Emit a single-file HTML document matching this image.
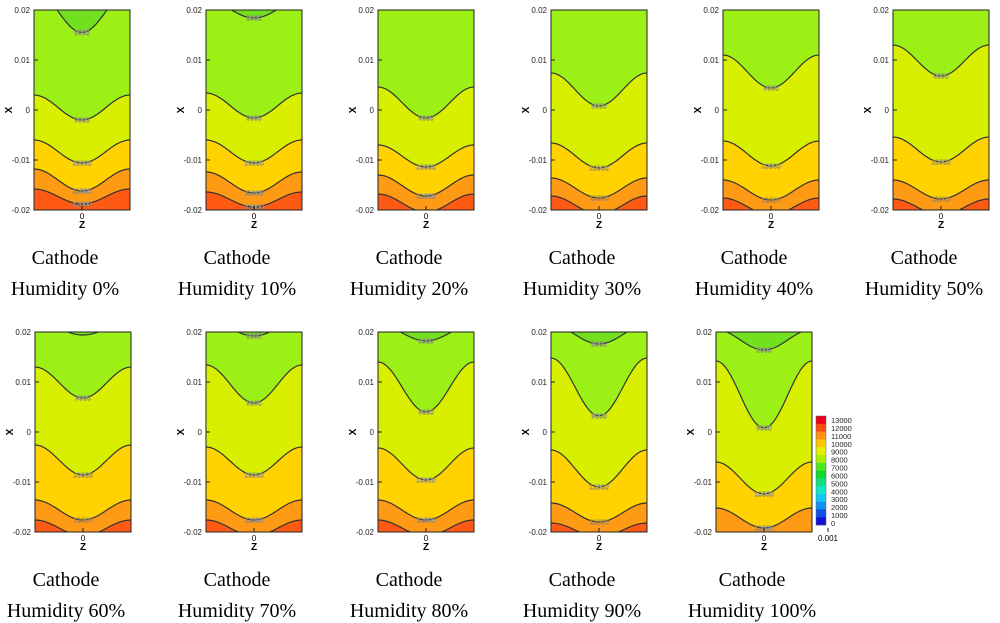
<!DOCTYPE html>
<html><head><meta charset="utf-8"><style>
html,body{margin:0;padding:0;background:#fff;}
svg{display:block;}
</style></head><body>
<svg id="fig" width="1000" height="623" xmlns="http://www.w3.org/2000/svg"></svg>
<script>
// Data: humidity cases, contour levels and contour-line x-position (edge, center) per panel
const humidityLabels = ["0%","10%","20%","30%","40%","50%","60%","70%","80%","90%","100%"];
const contourLevels = [8000, 9000, 10000, 11000, 12000];
// x at edge of domain for each contour level, per panel
const contourEdge = [
  [0.024, 0.003, -0.006, -0.0118, -0.0158],
  [0.022, 0.0034, -0.006, -0.0124, -0.0164],
  [0.03, 0.0046, -0.007, -0.013, -0.0168],
  [0.03, 0.0074, -0.0066, -0.0136, -0.0172],
  [0.03, 0.011, -0.0062, -0.014, -0.0176],
  [0.03, 0.013, -0.0054, -0.014, -0.0178],
  [0.022, 0.013, -0.0026, -0.0136, -0.0176],
  [0.0225, 0.0134, -0.003, -0.0136, -0.0176],
  [0.0215, 0.014, -0.0032, -0.0136, -0.0176],
  [0.0214, 0.0148, -0.0036, -0.0142, -0.0182],
  [0.0205, 0.0142, -0.006, -0.0152, -0.025]
];
// x at center (z=0) for each contour level, per panel
const contourCenter = [
  [0.0155, -0.002, -0.0106, -0.0162, -0.0188],
  [0.0184, -0.0016, -0.0106, -0.0166, -0.0194],
  [0.03, -0.0016, -0.0114, -0.0172, -0.0204],
  [0.03, 0.0008, -0.0116, -0.0176, -0.0208],
  [0.03, 0.0044, -0.0112, -0.018, -0.021],
  [0.03, 0.0068, -0.0104, -0.0178, -0.021],
  [0.0194, 0.0068, -0.0086, -0.0176, -0.0208],
  [0.0192, 0.0058, -0.0086, -0.0176, -0.0208],
  [0.0182, 0.004, -0.0096, -0.0176, -0.0208],
  [0.0176, 0.0032, -0.011, -0.018, -0.021],
  [0.0164, 0.0008, -0.0124, -0.0192, -0.025]
];
const xTicks = [0.02, 0.01, 0, -0.01, -0.02];
const xTickLabels = ["0.02","0.01","0","-0.01","-0.02"];
const legendLabels = ["13000","12000","11000","10000","9000","8000","7000","6000","5000","4000","3000","2000","1000","0"];

const NS = "http://www.w3.org/2000/svg";
const svg = document.getElementById("fig");
const regionColors = ["#72e01e","#9cf015","#d8f000","#ffd200","#ff9a14","#ff5a14"];
const panelLeft = [34,206,378,551,723,893, 35,206,378,551,716];
const panelTop = [10,10,10,10,10,10, 332,332,332,332,332];
const PW = 96, PH = 200;
function el(tag, attrs, parent){const e=document.createElementNS(NS,tag);for(const k in attrs)e.setAttribute(k,attrs[k]);(parent||svg).appendChild(e);return e;}
function yScale(v, top){return top + (0.02 - v)/0.04*PH;}
function curveY(p, li, t, top){
  const e=contourEdge[p][li], c=contourCenter[p][li];
  const w=(1+Math.cos(2*Math.PI*(t-0.5)))/2;
  return yScale(e+(c-e)*w, top);
}
const defs = el("defs",{});
for(let p=0;p<humidityLabels.length;p++){
  const L=panelLeft[p], T=panelTop[p];
  const g=el("g",{});
  
  
  const cp=el("clipPath",{id:"cp"+p},defs);
  el("rect",{x:L,y:T,width:PW,height:PH},cp);
  const inner=el("g",{"clip-path":"url(#cp"+p+")"},g);
  el("rect",{x:L,y:T,width:PW,height:PH,fill:regionColors[0]},inner);
  const N=40;
  for(let li=0;li<contourLevels.length;li++){
    let pts=[];
    for(let i=0;i<=N;i++){const t=i/N;pts.push((L+t*PW).toFixed(1)+","+curveY(p,li,t,T).toFixed(1));}
    el("path",{d:"M"+pts.join(" L")+" L"+(L+PW)+","+(T+PH+5)+" L"+L+","+(T+PH+5)+"Z",fill:regionColors[li+1]},inner);
  }
  for(let li=0;li<contourLevels.length;li++){
    let pts=[];
    for(let i=0;i<=N;i++){const t=i/N;pts.push((L+t*PW).toFixed(1)+","+curveY(p,li,t,T).toFixed(1));}
    const ln=el("path",{d:"M"+pts.join(" L"),fill:"none",stroke:"#333",  "stroke-width":1.2},inner);
    
    
    const cy=curveY(p,li,0.5,T);
    if(cy>T+3&&cy<T+PH-2){
      const lb=el("text",{x:L+PW/2,y:cy+2.5,"font-size":7,"text-anchor":"middle","font-family":"Liberation Sans, sans-serif",fill:"#fff",stroke:"#555","stroke-width":0.3},inner);
      lb.textContent=contourLevels[li];
      
      
    }
  }
  el("rect",{x:L,y:T,width:PW,height:PH,fill:"none",stroke:"#222","stroke-width":1},g);
  for(let k=0;k<xTicks.length;k++){
    const y=yScale(xTicks[k],T);
    el("line",{x1:L,x2:L+4,y1:y,y2:y,stroke:"#222"},g);
    const tx=el("text",{x:L-4,y:y+3,"font-size":8,"text-anchor":"end","font-family":"Liberation Sans, sans-serif",fill:"#222"},g);
    tx.textContent=xTickLabels[k];
    
    
  }
  const xt=el("text",{x:L-26,y:T+PH/2+4,"font-size":10,"font-weight":"bold","text-anchor":"middle","font-family":"Liberation Sans, sans-serif",transform:"rotate(-90 "+(L-26)+" "+(T+PH/2)+")"},g);
  xt.textContent="X";
  
  
  el("line",{x1:L+PW/2,x2:L+PW/2,y1:T+PH,y2:T+PH-4,stroke:"#222"},g);
  const z0=el("text",{x:L+PW/2,y:T+PH+9,"font-size":8,"text-anchor":"middle","font-family":"Liberation Sans, sans-serif"},g);
  z0.textContent="0";
  
  
  const zt=el("text",{x:L+PW/2,y:T+PH+18,"font-size":10,"font-weight":"bold","text-anchor":"middle","font-family":"Liberation Sans, sans-serif"},g);
  zt.textContent="Z";
  
  
  const cx=L+PW/2-(p===10?12:17);
  const c1=el("text",{x:cx,y:T+254,"font-size":20,"text-anchor":"middle","font-family":"Liberation Serif, serif"},g);
  c1.textContent="Cathode";
  
  
  const c2=el("text",{x:cx,y:T+285,"font-size":20,"text-anchor":"middle","font-family":"Liberation Serif, serif"},g);
  c2.textContent="Humidity "+humidityLabels[p];
  
  
}
// extra z tick on last panel
const zt2=el("text",{x:828,y:541,"font-size":8,"text-anchor":"middle","font-family":"Liberation Sans, sans-serif"});
zt2.textContent="0.001";


el("line",{x1:828,x2:828,y1:532,y2:528,stroke:"#222"});
// legend
const legendColors=["#e8001a","#ff4a10","#ff9010","#ffc800","#e6f000","#a8f000","#50e81e","#10d830","#10e080","#10e8c8","#10c8f0","#1090f0","#1050e8","#1010d8"];
const lg=el("g",{});


const LB=416, LH=109, n=legendColors.length;
for(let i=0;i<n;i++){
  el("rect",{x:816,y:LB+i*LH/n,width:10,height:LH/n+0.3,fill:legendColors[i]},lg);
  const t=el("text",{x:831,y:LB+5+i*(LH-6)/(n-1)+2,"font-size":7.5,"font-family":"Liberation Sans, sans-serif",fill:"#222"},lg);
  t.textContent=legendLabels[i];
  
  
}
el("rect",{x:816,y:LB,width:10,height:LH,fill:"none",stroke:"#666","stroke-width":0.5},lg);
</script>
</body></html>
